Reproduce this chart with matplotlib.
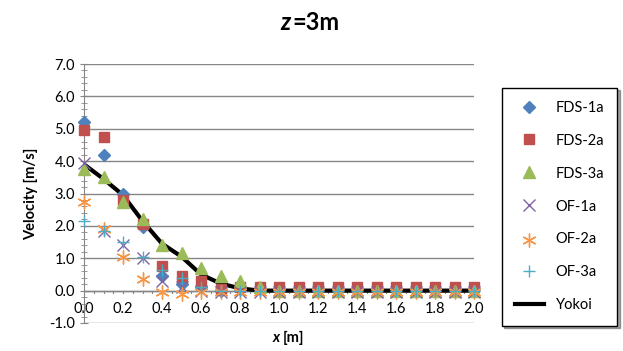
import numpy as np
import matplotlib
matplotlib.use("Agg")
import matplotlib.pyplot as plt
from matplotlib.ticker import MultipleLocator

plt.rcParams['font.family'] = ['Lato', 'DejaVu Sans']

# data
x = [0.0, 0.1, 0.2, 0.3, 0.4, 0.5, 0.6, 0.7, 0.8, 0.9, 1.0,
     1.1, 1.2, 1.3, 1.4, 1.5, 1.6, 1.7, 1.8, 1.9, 2.0]
fds_1a = [5.2, 4.2, 3.0, 1.95, 0.45, 0.2, 0.1, 0.0, 0.05, 0.05, 0.05,
          0.05, 0.05, 0.05, 0.05, 0.05, 0.05, 0.05, 0.05, 0.05, 0.05]
fds_2a = [4.95, 4.75, 2.8, 2.05, 0.75, 0.45, 0.3, 0.05, 0.1, 0.12, 0.12,
          0.1, 0.1, 0.1, 0.1, 0.1, 0.1, 0.1, 0.1, 0.1, 0.1]
fds_3a = [3.75, 3.5, 2.75, 2.2, 1.4, 1.15, 0.7, 0.45, 0.3, 0.1, 0.0,
          0.0, 0.0, 0.0, 0.0, 0.0, 0.0, 0.0, 0.0, 0.0, 0.0]
of_1a = [3.95, 1.85, 1.4, 1.0, 0.3, 0.1, 0.0, -0.05, -0.05, -0.05, -0.05,
         -0.05, -0.05, -0.05, -0.05, -0.05, -0.05, -0.05, -0.05, -0.05, -0.05]
of_2a = [2.75, 1.9, 1.05, 0.35, -0.05, -0.1, -0.05, -0.05, -0.05, -0.05, -0.05,
         -0.05, -0.05, -0.05, -0.05, -0.05, -0.05, -0.05, -0.05, -0.05, -0.05]
of_3a = [2.15, 1.85, 1.5, 1.05, 0.65, 0.4, 0.1, 0.0, 0.0, 0.0, 0.0,
         0.0, 0.0, 0.0, 0.0, 0.0, 0.0, 0.0, 0.0, 0.0, 0.0]
yokoi_x = [0.0, 0.1, 0.2, 0.3, 0.4, 0.5, 0.6, 0.7, 0.8, 0.9, 2.0]
yokoi_y = [3.9, 3.45, 2.95, 2.15, 1.45, 1.05, 0.5, 0.22, 0.07, 0.0, 0.0]

fig = plt.figure(figsize=(6.23, 3.51), dpi=100)
ax = fig.add_axes([84 / 623, 28 / 351, 390 / 623, 259 / 351])

ax.plot(x, fds_1a, 'D', color='#4F81BD', ms=6.5, label='FDS-1a', clip_on=False, zorder=3)
ax.plot(x, fds_2a, 's', color='#C0504D', ms=7.5, label='FDS-2a', clip_on=False, zorder=3)
ax.plot(x, fds_3a, '^', color='#9BBB59', ms=8.5, label='FDS-3a', clip_on=False, zorder=3)
ax.plot(x, of_1a, 'x', color='#8064A2', ms=8, mew=1.0, label='OF-1a', clip_on=False, zorder=3)
ax.scatter(x, of_2a, marker=(6, 2, 0), s=90, color='#F79646', linewidths=1.0,
           label='OF-2a', clip_on=False, zorder=3)
ax.plot(x, of_3a, '+', color='#4BACC6', ms=9, mew=1.0, label='OF-3a', clip_on=False, zorder=3)
ax.plot(yokoi_x, yokoi_y, '-', color='black', lw=3, label='Yokoi', zorder=2)

ax.set_xlim(0, 2.0)
ax.set_ylim(-1.0, 7.0)
ax.xaxis.set_major_locator(MultipleLocator(0.2))
ax.yaxis.set_major_locator(MultipleLocator(1.0))
ax.yaxis.set_minor_locator(MultipleLocator(0.2))
ax.xaxis.set_major_formatter(plt.FormatStrFormatter('%.1f'))
ax.yaxis.set_major_formatter(plt.FormatStrFormatter('%.1f'))

for s in ['top', 'right', 'bottom']:
    ax.spines[s].set_visible(False)
ax.spines['left'].set_color('#868686')
ax.grid(axis='y', color='#868686', lw=1.0)
ax.set_axisbelow(True)

# x axis drawn at y = 0 with small ticks, labels sit low in the plot area
ax.axhline(0, color='#868686', lw=1.0, zorder=1)
for t in np.arange(0.05, 2.0001, 0.05):
    ax.plot([t, t], [0, -0.08], color='#868686', lw=0.8, zorder=1)
ax.tick_params(axis='x', length=0, labelsize=10.5, pad=-15)
ax.tick_params(axis='y', which='major', direction='inout', length=6, color='#868686', labelsize=10.5)
ax.tick_params(axis='y', which='minor', direction='inout', length=4, color='#868686')

ax.set_ylabel('Velocity [m/s]', fontsize=10.5, fontweight='bold', labelpad=8)
fig.text(280 / 623, 6 / 351, 'x', fontsize=10.5, fontweight='bold', style='italic',
         ha='right', va='bottom')
fig.text(283 / 623, 6 / 351, '[m]', fontsize=10.5, fontweight='bold', ha='left', va='bottom')

fig.text(291 / 623, 1 - 23 / 351, 'z', fontsize=17, fontweight='bold', style='italic',
         ha='right', va='center')
fig.text(292 / 623, 1 - 23 / 351, '=3m', fontsize=17, fontweight='bold',
         ha='left', va='center')

leg = fig.legend(loc='center', bbox_to_anchor=(559.5 / 623, 1 - 206.5 / 351),
                 frameon=True, shadow=True, fancybox=False, fontsize=10.5,
                 labelspacing=1.3, handlelength=2.0, borderpad=0.9,
                 edgecolor='black')
leg.get_frame().set_linewidth(1.0)

fig.savefig('out.png', dpi=100)
